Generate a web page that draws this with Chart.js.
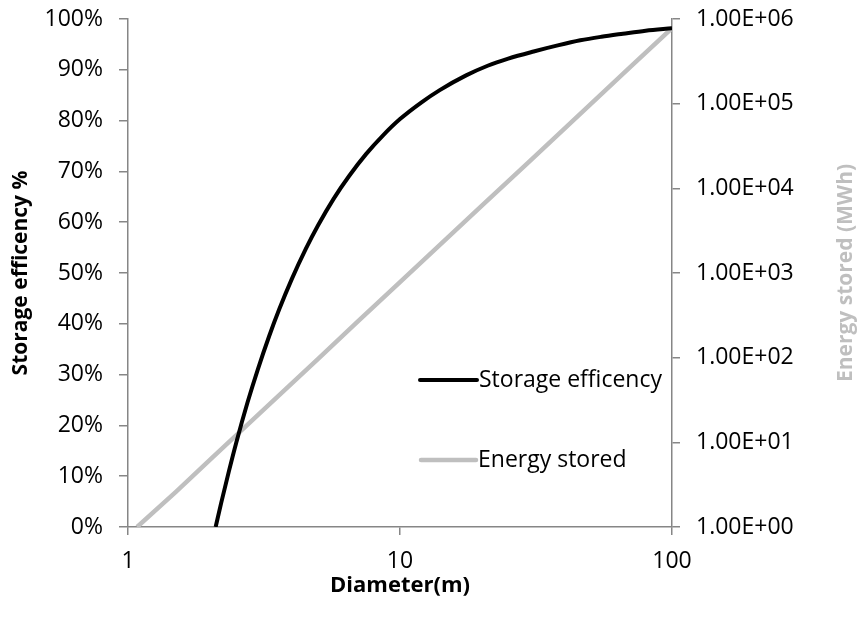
<!DOCTYPE html>
<html>
<head>
<meta charset="utf-8">
<script src="https://cdn.jsdelivr.net/npm/chart.js@4.4.1/dist/chart.umd.min.js"></script>
<style>
    html, body { margin: 0; padding: 0; background: #fff; }
    #wrap { width: 861px; height: 621px; position: relative; }
</style>
</head>
<body>
<div id="wrap"><canvas id="storageChart"></canvas></div>
<script>
// Storage efficency (%) vs diameter (m)
const effDiameters = [2.1, 2.2, 2.35, 2.5, 2.75, 3, 3.3, 3.6, 4, 4.5, 5, 5.7, 6.5, 7.5, 8.7, 10, 12, 14, 17.5, 21, 25, 31, 38, 46, 55, 66, 80, 100];
const effValues    = [0, 4.7, 11, 16.6, 24.5, 31, 37.5, 42.9, 48.8, 54.7, 59.4, 64.6, 69.1, 73.4, 77.2, 80.3, 83.6, 86, 88.9, 90.8, 92.2, 93.6, 94.8, 95.8, 96.5, 97.1, 97.7, 98.2];

// Energy stored (MWh) vs diameter (m)
const energyDiameters = [1.08, 1.5, 2, 3, 5, 7, 10, 15, 20, 30, 50, 70, 100];
const energyValues    = [1, 2.6, 6.2, 21, 97, 268, 780, 2630, 6240, 21000, 97500, 268000, 780000];

const xTicks = [1, 10, 100];
const energyTicks = [1, 10, 100, 1000, 10000, 100000, 1000000];

const seriesLabels = ['Storage efficency', 'Energy stored'];

const FONT = '"Open Sans", "Liberation Sans", sans-serif';
const AXIS_GREY = '#868686';

function toPoints(xs, ys) {
    return xs.map((x, i) => ({ x: x, y: ys[i] }));
}

function sciLabel(v) {
    const exp = Math.round(Math.log10(v));
    const mant = v / Math.pow(10, exp);
    return mant.toFixed(2) + 'E+' + String(exp).padStart(2, '0');
}

// fixed axis box sizes, and no extra room for overhanging labels
function fixWidth(w) {
    return (scale) => {
        scale.width = w;
        scale.paddingTop = 0;
        scale.paddingBottom = 0;
    };
}

// legend drawn inside the plot, plus the right-hand title that reads bottom-up
const extrasPlugin = {
    id: 'extras',
    afterDraw(chart) {
        const ctx = chart.ctx;
        ctx.save();
        ctx.font = '23px ' + FONT;
        ctx.textBaseline = 'middle';
        ctx.textAlign = 'left';
        const rows = [
            { y: 380, x0: 420, x1: 477 },
            { y: 460, x0: 421, x1: 476 }
        ];
        chart.data.datasets.forEach((ds, i) => {
            const r = rows[i];
            ctx.strokeStyle = ds.borderColor;
            ctx.lineWidth = ds.borderWidth;
            ctx.lineCap = 'round';
            ctx.beginPath();
            ctx.moveTo(r.x0, r.y);
            ctx.lineTo(r.x1, r.y);
            ctx.stroke();
            ctx.fillStyle = '#000';
            ctx.fillText(ds.label, r.x1 + 2, r.y);
        });

        ctx.translate(846, (chart.chartArea.top + chart.chartArea.bottom) / 2);
        ctx.rotate(-Math.PI / 2);
        ctx.textAlign = 'center';
        ctx.font = 'bold 21px ' + FONT;
        ctx.fillStyle = '#bfbfbf';
        ctx.fillText('Energy stored (MWh)', 0, 0);
        ctx.restore();
    }
};

const ctx = document.getElementById('storageChart');
new Chart(ctx, {
    type: 'line',
    data: {
        datasets: [
            {
                label: seriesLabels[0],
                data: toPoints(effDiameters, effValues),
                yAxisID: 'y',
                borderColor: '#000000',
                borderWidth: 4,
                pointRadius: 0,
                cubicInterpolationMode: 'monotone'
            },
            {
                label: seriesLabels[1],
                data: toPoints(energyDiameters, energyValues),
                yAxisID: 'y1',
                borderColor: '#bfbfbf',
                borderWidth: 4.5,
                pointRadius: 0,
                tension: 0
            }
        ]
    },
    options: {
        responsive: true,
        maintainAspectRatio: false,
        animation: false,
        layout: {
            padding: { top: 19, left: 0, right: 0, bottom: 0 }
        },
        plugins: {
            legend: { display: false },
            tooltip: { enabled: false }
        },
        scales: {
            x: {
                type: 'logarithmic',
                min: 1,
                max: 100,
                afterBuildTicks: (scale) => {
                    scale.ticks = xTicks.map(v => ({ value: v }));
                },
                afterFit: (scale) => {
                    scale.height = 94;
                    scale.paddingLeft = 0;
                    scale.paddingRight = 0;
                },
                border: { color: AXIS_GREY, width: 1.5 },
                grid: { drawOnChartArea: false, drawTicks: true, tickLength: 8, color: AXIS_GREY, lineWidth: 1.5 },
                ticks: {
                    color: '#000',
                    padding: 13,
                    maxRotation: 0,
                    autoSkip: false,
                    font: { family: FONT, size: 23 },
                    callback: (v) => String(v)
                },
                title: {
                    display: true,
                    text: 'Diameter(m)',
                    color: '#000',
                    padding: { top: 0, bottom: 22 },
                    font: { family: FONT, size: 22, weight: 'bold' }
                }
            },
            y: {
                position: 'left',
                min: 0,
                max: 100,
                afterFit: fixWidth(128),
                border: { color: AXIS_GREY, width: 1.5 },
                grid: { drawOnChartArea: false, drawTicks: true, tickLength: 9, color: AXIS_GREY, lineWidth: 1.5 },
                ticks: {
                    stepSize: 10,
                    color: '#000',
                    padding: 16,
                    font: { family: FONT, size: 23 },
                    callback: (v) => v + '%'
                },
                title: {
                    display: true,
                    text: 'Storage efficency %',
                    color: '#000',
                    padding: { top: 8, bottom: 0 },
                    font: { family: FONT, size: 21, weight: 'bold' }
                }
            },
            y1: {
                type: 'logarithmic',
                position: 'right',
                min: 1,
                max: 1000000,
                afterBuildTicks: (scale) => {
                    scale.ticks = energyTicks.map(v => ({ value: v }));
                },
                afterFit: fixWidth(189),
                border: { color: AXIS_GREY, width: 1.5 },
                grid: { drawOnChartArea: false, drawTicks: true, tickLength: 8, color: AXIS_GREY, lineWidth: 1.5 },
                ticks: {
                    color: '#000',
                    padding: 16,
                    autoSkip: false,
                    font: { family: FONT, size: 23 },
                    callback: (v) => sciLabel(v)
                }
            }
        }
    },
    plugins: [extrasPlugin]
});
</script>
</body>
</html>
